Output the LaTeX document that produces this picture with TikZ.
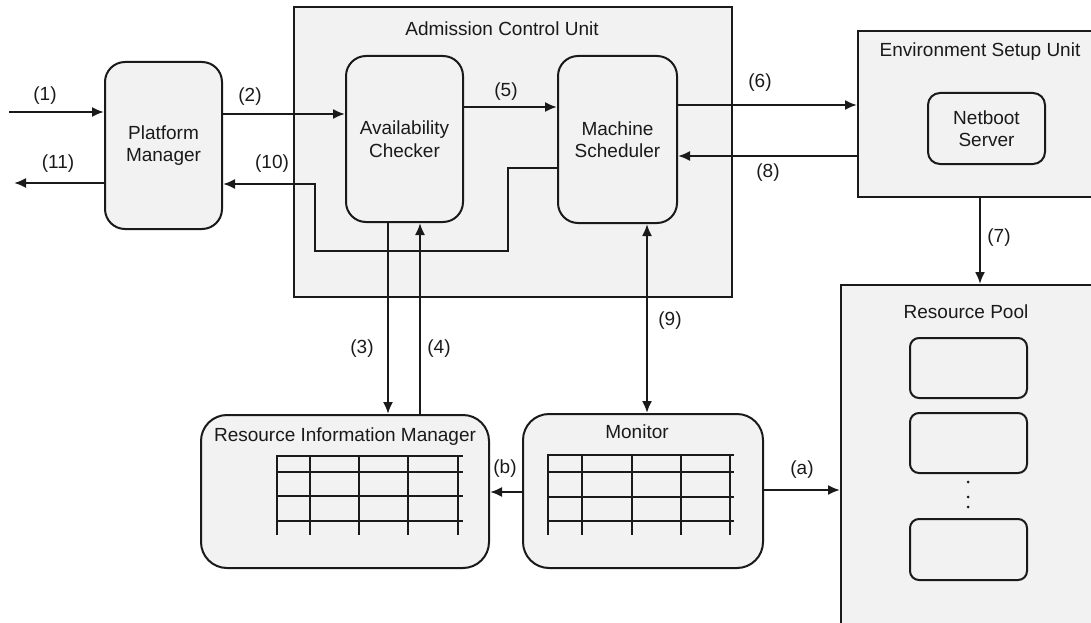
\documentclass[tikz,border=0pt]{standalone}
\usepackage{fontspec}
\setmainfont{Liberation Sans}
\usetikzlibrary{arrows.meta}
\definecolor{boxfill}{HTML}{F2F2F2}
\definecolor{ink}{HTML}{1A1A1A}
\begin{document}
\begin{tikzpicture}[x=1pt,y=-1pt,
  font=\fontsize{19}{22.5}\selectfont,
  every node/.style={text=ink},
  line/.style={draw=ink,line width=2pt},
  tip/.tip={Latex[length=12pt,width=10pt]},
  arr/.style={line,-tip},
  darr/.style={line,tip-tip},
  rbox/.style={draw=ink,fill=boxfill,line width=2pt,rounded corners=20pt,inner sep=0pt,align=center},
  bigrbox/.style={rbox,rounded corners=26pt},
  smallrbox/.style={rbox,rounded corners=12pt},
  poolbox/.style={rbox,rounded corners=9pt},
  unit/.style={draw=ink,fill=boxfill,line width=2pt,inner sep=0pt},
  lbl/.style={inner sep=0pt},
  gridline/.style={draw=ink,line width=2pt}
]
\useasboundingbox (0,0) rectangle (1091,623);
\clip (0,0) rectangle (1091,623);

% containers
\node[unit,minimum width=438pt,minimum height=290pt] (acu) at (513,152) {};
\node[lbl] (acut) at (502,29) {Admission Control Unit};
\node[unit,minimum width=252pt,minimum height=166pt] (esu) at (984,114) {};
\node[lbl] (esut) at (980,52) {Environment Setup Unit};
\node[unit,minimum width=270pt,minimum height=360pt] (rp) at (976,465) {};
\node[lbl] (rpt) at (966,312) {Resource Pool};

% boxes
\node[rbox,minimum width=117pt,minimum height=167pt] (pm) at (163.5,145.5) {Platform\\Manager};
\node[rbox,minimum width=117pt,minimum height=166pt] (ac) at (404.5,139) {Availability\\Checker};
\node[rbox,minimum width=119pt,minimum height=167pt] (ms) at (617.5,139.5) {Machine\\Scheduler};
\node[smallrbox,minimum width=117pt,minimum height=71pt] (ns) at (986.5,128.5) {Netboot\\Server};
\node[poolbox,minimum width=117pt,minimum height=60pt] (p1) at (968.5,368) {};
\node[poolbox,minimum width=117pt,minimum height=60pt] (p2) at (968.5,443) {};
\node[poolbox,minimum width=117pt,minimum height=61pt] (p3) at (968.5,549.5) {};
\fill[ink] (968,482) circle (1.5pt) (968,497) circle (1.5pt) (968,507) circle (1.5pt);

\node[bigrbox,minimum width=288pt,minimum height=153pt] (rim) at (345,491.5) {};
\node[lbl] (rimt) at (345,437) {Resource Information Manager};
\node[bigrbox,minimum width=240pt,minimum height=154pt] (mon) at (643,491) {};
\node[lbl] (mont) at (637,432) {Monitor};

% grids
\foreach \y in {456,472,496,521} \draw[gridline] (277,\y) -- (463,\y);
\foreach \x in {277,310,359,408,458} \draw[gridline] (\x,455) -- (\x,535);
\foreach \y in {455,472,497,521} \draw[gridline] (548,\y) -- (734,\y);
\foreach \x in {548,582,632,681,730} \draw[gridline] (\x,454) -- (\x,535);

% connectors
\coordinate (in1) at (9,112);
\coordinate (out11) at (14,183);
\draw[arr] (in1) -- (in1 -| pm.west);
\draw[arr] (pm.west |- out11) -- (out11);
\draw[arr] (pm.east |- 0,114) -- (ac.west |- 0,114);
\draw[arr] (ac.east |- 0,107) -- (ms.west |- 0,107);
\draw[arr] (ms.east |- 0,105) -- (esu.west |- 0,105);
\draw[arr] (esu.west |- 0,156) -- (ms.east |- 0,156);
\draw[arr] (esu.south -| 980,0) -- (rp.north -| 980,0);
\draw[arr] (ac.south -| 388,0) -- (rim.north -| 388,0);
\draw[arr] (rim.north -| 420,0) -- (ac.south -| 420,0);
\draw[darr] (ms.south -| 647,0) -- (mon.north -| 647,0);
\draw[arr,line join=miter] (ms.west |- 0,168) -- (508,168) -- (508,251) -- (315,251) -- (315,184) -- (pm.east |- 0,184);
\draw[arr] (mon.west |- 0,492) -- (rim.east |- 0,492);
\draw[arr] (mon.east |- 0,490) -- (rp.west |- 0,490);

% labels
\node[lbl] (l1) at (45,96) {(1)};
\node[lbl] (l2) at (250,97) {(2)};
\node[lbl] (l3) at (362,349) {(3)};
\node[lbl] (l4) at (439,349) {(4)};
\node[lbl] (l5) at (506,92) {(5)};
\node[lbl] (l6) at (760,83) {(6)};
\node[lbl] (l7) at (999,238) {(7)};
\node[lbl] (l8) at (768,173) {(8)};
\node[lbl] (l9) at (670,321) {(9)};
\node[lbl] (l10) at (272,164) {(10)};
\node[lbl] (l11) at (58,164) {(11)};
\node[lbl] (la) at (802,470) {(a)};
\node[lbl] (lb) at (505,469) {(b)};
\end{tikzpicture}
\end{document}
